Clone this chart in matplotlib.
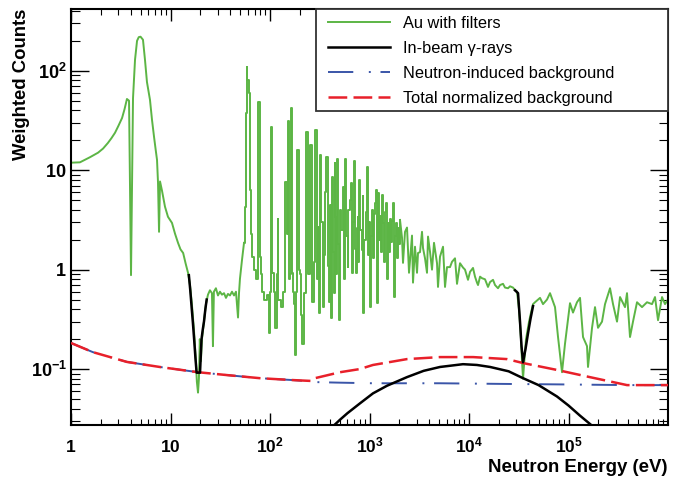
import numpy as np
import matplotlib
matplotlib.use('Agg')
import matplotlib.pyplot as plt
from matplotlib.patches import Rectangle
from matplotlib.ticker import LogLocator, NullFormatter

plt.rcParams['font.family'] = ['Liberation Sans', 'DejaVu Sans']
plt.rcParams['mathtext.fontset'] = 'custom'
plt.rcParams['mathtext.rm'] = 'Liberation Sans:bold'
plt.rcParams['mathtext.bf'] = 'Liberation Sans:bold'
plt.rcParams['mathtext.it'] = 'Liberation Sans:bold:italic'

# Au with filters (neutron energy in eV, weighted counts), split in three ranges
# low energies: smooth part below the resonance forest
au_low_energy = [1.00, 1.23, 1.55, 1.87, 2.10, 2.35, 2.55, 2.77, 3.00, 3.26, 3.45, 3.65, 3.83,
                 4.01, 4.20, 4.40, 4.61, 4.80, 5.00, 5.29, 5.54, 5.80, 6.22, 6.52, 6.83, 7.10,
                 7.32, 7.49, 7.67, 7.85, 8.22, 8.80, 9.43, 10.35, 11.1, 11.9, 12.6, 13.4, 14.2,
                 15.0, 15.7, 16.4, 17.2, 18.0, 18.4, 18.9, 19.3, 19.7, 20.2, 20.7, 21.7, 22.7,
                 23.8, 24.9, 26.1, 26.7, 27.3, 28.6, 30.0, 31.4, 32.9, 34.5, 36.1, 37.8, 39.6,
                 41.5, 43.5, 45.5, 47.7, 48.8, 49.9, 52.3, 54.8]
au_low_counts = [11.9, 12.0, 13.5, 15.0, 16.5, 18.8, 21.0, 23.8, 28.0, 33.5, 41.0, 52.0, 50.0,
                 0.88, 53.0, 129, 200, 218, 220, 205, 129, 77, 51, 32, 21.7, 16.0,
                 12.7, 7.5, 2.4, 7.7, 6.2, 4.3, 3.4, 2.95, 2.3, 1.86, 1.6, 1.47, 1.15,
                 0.93, 0.7, 0.45, 0.25, 0.12, 0.075, 0.058, 0.08, 0.2, 0.12, 0.2, 0.3, 0.45,
                 0.56, 0.62, 0.58, 0.17, 0.6, 0.65, 0.55, 0.6, 0.56, 0.58, 0.52, 0.57, 0.55,
                 0.6, 0.55, 0.6, 0.33, 0.58, 0.81, 1.25, 1.86]
# resonance region
au_res_energy = [54.8, 56.1, 57.4, 58.7, 60.1, 61.5, 63.0, 64.4, 67.5, 71.0, 74.0, 77.5,
                 79.3, 81.1, 83.1, 85.0, 89.1, 95.5, 100, 102, 104.7, 107, 111, 115, 118, 120,
                 123, 126, 132, 138, 145, 148, 152, 156, 159, 163, 167, 172, 178, 182, 186, 191,
                 196, 200, 207, 215, 225, 235, 246, 258, 270, 280, 290, 297, 304, 311, 318, 325,
                 333, 341, 349, 357, 365, 374, 383, 392, 401, 410, 420, 430, 440, 450, 460, 471,
                 482, 493, 505, 517, 529, 542, 555, 567, 580, 594, 608, 622, 637, 652, 667, 683,
                 699, 715, 732, 749, 766, 784, 802, 821, 841, 860, 880, 901, 922, 944, 966, 988,
                 1012, 1036, 1060, 1085, 1110, 1136, 1163, 1190, 1217, 1246, 1275, 1305, 1335,
                 1367, 1400, 1432, 1465, 1499, 1535, 1571, 1607, 1645, 1683, 1722, 1763, 1804,
                 1846, 1890, 1934, 1980, 2026]
au_res_counts = [1.86, 4.3, 38, 110, 80, 60, 6.3, 2.3, 1.33, 1.0, 0.81, 49,
                 49, 1.33, 0.9, 0.6, 0.5, 0.55, 0.23, 0.6, 27, 0.93, 0.6, 0.26, 0.9, 3.2,
                 0.5, 0.5, 0.42, 0.6, 7.6, 2.3, 31, 0.8, 0.9, 42, 0.93, 0.6, 0.45, 0.14, 0.6, 16,
                 1.0, 0.9, 0.35, 0.18, 0.58, 24, 0.9, 18, 0.47, 1.2, 25.5, 0.8, 2.7, 0.37, 0.93, 14.3,
                 3.0, 0.42, 1.4, 2.0, 6.0, 13.6, 1.1, 0.47, 4.5, 0.33, 8.6, 1.5, 0.58, 11.8, 3.4, 0.9,
                 13.0, 1.8, 0.31, 4.0, 2.5, 6.8, 0.8, 1.17, 13.0, 2.2, 1.06, 4.0, 5.0, 7.5, 0.93, 3.0,
                 12.5, 1.6, 0.93, 2.6, 3.4, 1.2, 8.0, 2.5, 1.58, 5.5, 0.37, 2.0, 3.8, 10.8, 1.4, 3.0,
                 0.42, 2.2, 4.0, 1.3, 3.6, 4.7, 6.3, 0.46, 5.9, 2.0, 3.5, 1.5, 5.6,
                 2.95, 1.2, 3.8, 4.7, 0.81, 2.95, 1.5, 3.2, 1.9, 3.1, 4.7, 0.53, 2.2,
                 2.95, 1.3, 2.6, 1.8, 3.16]
# upper energies
au_high_energy = [2026, 2121, 2171, 2274, 2382, 2495, 2674, 2736, 2866, 3002, 3072, 3218, 3370,
                  3449, 3612, 3783, 3873, 4060, 4247, 4448, 4769, 4880, 5111, 5480, 5740, 6010,
                  6442, 6750, 7233, 7575, 8120, 8700, 9116, 9770, 10240, 10970, 11490, 12030,
                  12320, 12910, 13510, 14480, 15520, 16270, 17430, 18260, 19560, 20500, 21960,
                  23000, 24660, 25830, 27680, 29000, 30370, 31800, 33300, 34100, 34900, 35700,
                  37400, 40100, 42000, 44000, 46060, 51720, 55430, 60780, 65180, 73160, 78450,
                  86030, 92210, 103500, 110950, 121700, 130500, 139900, 153400, 157000, 172300,
                  184600, 197900, 217100, 232700, 261300, 280100, 307200, 329400, 369700,
                  387100, 415000, 444700, 488000, 548000, 615000, 690600, 740000, 793500,
                  870500, 933000, 1000000]
au_high_counts = [3.16, 2.1, 1.17, 2.4, 2.65, 0.93, 2.2, 0.74, 1.7, 0.93, 1.47, 1.5, 2.4,
                  1.65, 1.3, 0.93, 2.15, 1.5, 1.0, 1.86, 1.16, 0.67, 1.35, 1.7, 0.67, 1.06,
                  1.06, 1.2, 1.3, 0.72, 1.16, 1.05, 1.0, 0.79, 0.95, 1.04, 0.85, 0.74,
                  0.7, 0.85, 0.82, 0.8, 0.67, 0.75, 0.79, 0.7, 0.65, 0.7, 0.72,
                  0.66, 0.65, 0.68, 0.66, 0.62, 0.6, 0.4, 0.2, 0.12, 0.08, 0.11,
                  0.2, 0.3, 0.37, 0.45, 0.47, 0.52, 0.45, 0.5, 0.58, 0.42, 0.21,
                  0.093, 0.18, 0.46, 0.37, 0.47, 0.52, 0.21, 0.17, 0.105, 0.26,
                  0.42, 0.26, 0.3, 0.45, 0.65, 0.45, 0.3, 0.53, 0.42,
                  0.58, 0.21, 0.3, 0.47, 0.42, 0.47, 0.45, 0.53, 0.31,
                  0.53, 0.45, 0.5]

# In-beam gamma-rays (black): two filter dips and the broad hump
dip1_energy = [15.3, 15.8, 16.3, 16.8, 17.3, 17.8, 18.3, 19.8, 20.5, 21.1, 21.7, 22.4, 23.1]
dip1_counts = [0.88, 0.62, 0.42, 0.29, 0.196, 0.13, 0.092, 0.092, 0.2, 0.25, 0.3, 0.4, 0.5]
dip2_energy = [29000, 31100, 32550, 33700, 34900, 37000, 39200, 41500, 44000]
dip2_counts = [0.62, 0.58, 0.3, 0.17, 0.117, 0.16, 0.23, 0.32, 0.43]
gamma_energy = [420, 506, 600, 797, 1084, 1500, 2380, 3500, 5110, 8700, 12000, 16300, 25000,
                34900, 50000, 76600, 100000, 130500, 180000]
gamma_counts = [0.026, 0.031, 0.036, 0.045, 0.057, 0.068, 0.083, 0.096, 0.105, 0.112, 0.11,
                0.105, 0.095, 0.081, 0.069, 0.053, 0.043, 0.034, 0.026]

# Neutron-induced background (blue)
nbkg_energy = [1, 1.66, 3.65, 7.8, 18.9, 37, 79, 170, 258, 283, 506, 1084, 5110, 20000,
               100000, 400000, 1000000]
nbkg_counts = [0.183, 0.148, 0.118, 0.105, 0.093, 0.087, 0.081, 0.0775, 0.075, 0.074, 0.073,
               0.072, 0.072, 0.071, 0.070, 0.069, 0.069]

# Total normalized background (red)
tot_energy = [1, 1.66, 3.65, 7.8, 18.9, 37, 79, 170, 258, 283, 506, 797, 1084, 2380, 5110,
              11000, 24100, 34900, 76600, 164000, 387000, 1000000]
tot_counts = [0.183, 0.148, 0.118, 0.105, 0.093, 0.087, 0.081, 0.0775, 0.076, 0.081, 0.093,
              0.1, 0.11, 0.126, 0.132, 0.132, 0.126, 0.115, 0.098, 0.083, 0.069, 0.069]

x_ticks = [1, 10, 1e2, 1e3, 1e4, 1e5]
x_ticklabels = [r'$1$', r'$10$', r'$10^{2}$', r'$10^{3}$', r'$10^{4}$', r'$10^{5}$']
y_ticks = [0.1, 1, 10, 100]
y_ticklabels = [r'$10^{-1}$', r'$1$', r'$10$', r'$10^{2}$']

green = '#5CB545'
red = '#E8202A'
blue = '#3A55A8'

fig = plt.figure(figsize=(6.82, 4.78), dpi=100)
ax = fig.add_axes([0.1041, 0.1109, 0.8754, 0.8703])

l_au, = ax.plot(au_low_energy, au_low_counts, color=green, lw=1.4, zorder=2)
ax.step(au_res_energy, au_res_counts, where='mid', color=green, lw=1.4, zorder=2)
ax.plot(au_high_energy, au_high_counts, color=green, lw=1.4, zorder=2)
l_nb, = ax.plot(nbkg_energy, nbkg_counts, color=blue, lw=1.4, dashes=(13, 8, 1, 5), zorder=3)
l_tot, = ax.plot(tot_energy, tot_counts, color=red, lw=1.8, dashes=(7.5, 2.5), zorder=4)
l_g, = ax.plot(gamma_energy, gamma_counts, color='black', lw=1.8, zorder=5)
ax.plot(dip1_energy, dip1_counts, color='black', lw=1.8, zorder=5)
ax.plot(dip2_energy, dip2_counts, color='black', lw=1.8, zorder=5)

ax.set_xscale('log')
ax.set_yscale('log')
ax.set_xlim(1, 1e6)
ax.set_ylim(0.0274, 418)

ax.set_xticks(x_ticks, x_ticklabels)
ax.set_yticks(y_ticks, y_ticklabels)
ax.xaxis.set_minor_locator(LogLocator(base=10, subs=np.arange(2, 10), numticks=100))
ax.yaxis.set_minor_locator(LogLocator(base=10, subs=np.arange(2, 10), numticks=100))
ax.xaxis.set_minor_formatter(NullFormatter())
ax.yaxis.set_minor_formatter(NullFormatter())

ax.tick_params(which='both', direction='in', top=True, right=True, color='black')
ax.tick_params(axis='x', which='major', length=8.6, width=1.0, pad=19.5, labelsize=12.5)
ax.tick_params(axis='x', which='minor', length=4.3, width=0.8)
ax.tick_params(axis='y', which='major', length=13, width=1.0, pad=3, labelsize=13)
ax.tick_params(axis='y', which='minor', length=6.5, width=0.8)
for lab in ax.get_xticklabels():
    lab.set_verticalalignment('baseline')
for s in ax.spines.values():
    s.set_linewidth(1.5)

fig.text(22 / 682, 1 - 9 / 478, 'Weighted Counts', rotation=90, ha='center', va='top',
         fontsize=13.3, fontweight='bold')
fig.text(667 / 682, 1 - 472 / 478, 'Neutron Energy (eV)', ha='right', va='baseline',
         fontsize=13.4, fontweight='bold')

# legend box
ax.add_patch(Rectangle((0.4104, 0.7548), 0.5896, 0.2452, transform=ax.transAxes,
                       facecolor='white', edgecolor='#333333', lw=1.3, zorder=6, clip_on=False))
leg = ax.legend(handles=[l_au, l_g, l_nb, l_tot],
                labels=['Au with filters', 'In-beam γ-rays', 'Neutron-induced background',
                        'Total normalized background'],
                loc='upper left', bbox_to_anchor=(0.4305, 0.983), frameon=False,
                borderpad=0, borderaxespad=0, handlelength=3.78, handletextpad=0.8,
                labelspacing=0.6, fontsize=11.8)
leg.set_zorder(7)

fig.savefig('out.png', dpi=100)
